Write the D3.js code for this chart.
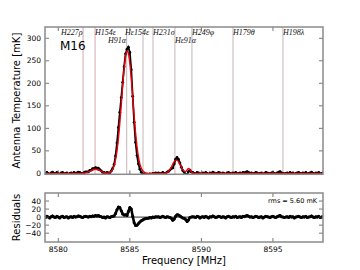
<!DOCTYPE html>
<html>
<head>
<meta charset="utf-8">
<script src="https://cdn.jsdelivr.net/npm/d3@7"></script>
<style>
  body { margin: 0; background: #fff; }
  svg { display: block; }
</style>
</head>
<body>
<svg id="chart" width="360" height="270"></svg>
<script>
// channel grid: 8579.0 .. 8598.5 MHz, 0.1 MHz channels
const freqStart = 8579.0;
const freqStep = 0.1;

// measured antenna temperature [mK], one row per MHz
const tempData = [
    1, -1, 2, 0, -2, 1, 3, 0, -1, 2,
    0, -2, 1, 2, -1, 0, 1, -2, 0, 1,
    -1, 2, 0, 1, 3, 2, 0, -0.7, 1.7, 3.2,
    3.1, 3.2, 6.7, 7.2, 10.6, 10.6, 13.0, 11.6, 11.6, 8.2,
    5.7, 2.2, 2.1, -0.8, 2.0, 1.2, 1.0, 5.4, 10.9, 19.8,
    38.8, 67.5, 101.9, 135.8, 168.3, 202.2, 237.0, 265.4, 275.6, 280.3,
    268.5, 230.2, 171.2, 113.6, 69.0, 39.5, 20.8, 9.3, 2.6, -1.1,
    -2.2, -2.8, -2.5, -3, -1, -2, 0, -1, 1, 0,
    1, -1, 0, 2, 0, -0.2, 3.0, 4.4, 7.3, 10.7,
    12.1, 21.0, 31.5, 35.5, 31.0, 23.1, 13.7, 6.3, 1.9, -2.0,
    -3.2, 4.0, 7.0, 3.0, 2.0, 0, -1, 2, 1, -2,
    0, 1, -1, 2, 0, -2, 1, 0, 3, 1,
    -1, 0, 2, 1, -1, 1, 0, -2, 1, 2,
    0, -1, 1, 0, 2, -1, 0, 1, -1, 2,
    1, 3, 4, 2, 0, 1, -1, 0, 2, 1,
    -1, 0, 1, -2, 0, 2, 1, 0, -1, 1,
    2, 0, -1, 1, 3, 4, 1, 0, -1, 0,
    1, -1, 2, 0, 1, -2, 0, 1, 2, 0,
    -1, 1, 0, 2, -1, 0, 1, 3, 0, -1,
    1, 0, 2, -1, 0, 1
];

// gaussian model fit [mK]
const tempFit = [
    0, 0, 0, 0, 0, 0, 0, 0, 0, 0,
    0, 0, 0, 0, 0, 0, 0, 0, 0, 0,
    0, 0, 0, 0, 0, 0, 0, 0.3, 0.7, 1.2,
    2.1, 3.2, 4.7, 6.2, 7.6, 8.6, 9.0, 8.6, 7.6, 6.2,
    4.7, 3.2, 2.1, 1.2, 1.0, 1.2, 2.0, 4.4, 8.9, 16.8,
    29.8, 49.5, 76.9, 111.8, 152.3, 194.2, 232.0, 259.4, 271.6, 266.3,
    244.5, 210.2, 169.2, 127.6, 90.0, 59.5, 36.8, 21.3, 11.6, 5.9,
    2.8, 1.2, 0.5, 0, 0, 0, 0, 0, 0, 0,
    0, 0, 0, 0, 0, 0.8, 2.0, 4.4, 8.3, 13.7,
    20.1, 26.0, 29.5, 29.5, 26.0, 20.1, 13.7, 8.3, 4.9, 4.0,
    7.8, 11, 8, 3, 1, 0, 0, 0, 0, 0,
    0, 0, 0, 0, 0, 0, 0, 0, 0, 0,
    0, 0, 0, 0, 0, 0, 0, 0, 0, 0,
    0, 0, 0, 0, 0, 0, 0, 0, 0, 0,
    0, 0, 0, 0, 0, 0, 0, 0, 0, 0,
    0, 0, 0, 0, 0, 0, 0, 0, 0, 0,
    0, 0, 0, 0, 0, 0, 0, 0, 0, 0,
    0, 0, 0, 0, 0, 0, 0, 0, 0, 0,
    0, 0, 0, 0, 0, 0, 0, 0, 0, 0,
    0, 0, 0, 0, 0, 0
];

// recombination line markers
const lineFreqs = [8581.73, 8582.57, 8584.78, 8585.92, 8586.62, 8588.15, 8589.34, 8592.21, 8595.70];
const lineNames = ["H227ρ", "H154ε", "H91α", "Hε154ε", "H231σ", "Hε91α", "H249φ", "H179θ", "H198λ"];
const labelFreqs = [8580.19, 8582.57, 8583.48, 8584.66, 8586.62, 8588.15, 8589.34, 8592.21, 8595.70];
const labelRows = [0, 0, 1, 0, 0, 1, 0, 0, 0];

const xTicks = [8580, 8585, 8590, 8595];
const tempTicks = [0, 50, 100, 150, 200, 250, 300];
const residTicks = [-40, -20, 0, 20, 40];
const rmsText = "rms =  5.60 mK";

const spectrum = tempData.map((t, i) => ({
    freq: freqStart + i * freqStep,
    data: t,
    fit: tempFit[i],
    resid: t - tempFit[i]
}));

const svg = d3.select("#chart");
const left = 45, right = 323;
const topPanel = {y0: 27, y1: 174.3};
const botPanel = {y0: 193, y1: 242};
const frameColor = "#8a8a8a";
const tickColor = "#555";

const x = d3.scaleLinear().domain([8579.07, 8598.5]).range([left, right]);
const yTop = d3.scaleLinear().domain([-2, 325]).range([topPanel.y1, topPanel.y0]);
const yBot = d3.scaleLinear().domain([-62, 60]).range([botPanel.y1, botPanel.y0]);

svg.append("defs").selectAll("clipPath")
    .data([["clipTop", topPanel], ["clipBot", botPanel]])
    .enter().append("clipPath")
    .attr("id", d => d[0])
    .append("rect")
    .attr("x", left).attr("y", d => d[1].y0)
    .attr("width", right - left).attr("height", d => d[1].y1 - d[1].y0);

// ---- top panel ----
const gTop = svg.append("g").attr("clip-path", "url(#clipTop)");

gTop.selectAll("line.rrl")
    .data(lineFreqs)
    .enter().append("line")
    .attr("class", "rrl")
    .attr("x1", d => x(d)).attr("x2", d => x(d))
    .attr("y1", topPanel.y0).attr("y2", topPanel.y1)
    .attr("stroke", (d, i) => i < 2 ? "#d3a9ae" : "#c4b6b6")
    .attr("stroke-width", 1);

const dataLine = d3.line().x(d => x(d.freq)).y(d => yTop(d.data));
const fitLine = d3.line().x(d => x(d.freq)).y(d => yTop(d.fit)).curve(d3.curveMonotoneX);

gTop.append("path")
    .datum(spectrum)
    .attr("d", dataLine)
    .attr("fill", "none")
    .attr("stroke", "#000")
    .attr("stroke-width", 1.8);

gTop.selectAll("circle.pt")
    .data(spectrum)
    .enter().append("circle")
    .attr("class", "pt")
    .attr("cx", d => x(d.freq))
    .attr("cy", d => yTop(d.data))
    .attr("r", 1.4)
    .attr("fill", "#000");

gTop.append("path")
    .datum(spectrum)
    .attr("d", fitLine)
    .attr("fill", "none")
    .attr("stroke", "#e8000b")
    .attr("stroke-width", 1.4);

svg.selectAll("text.rrl")
    .data(lineNames)
    .enter().append("text")
    .attr("class", "rrl")
    .attr("x", (d, i) => x(labelFreqs[i]))
    .attr("y", (d, i) => 35 + labelRows[i] * 7.5)
    .attr("font-family", "Liberation Serif, DejaVu Serif, serif")
    .attr("font-style", "italic")
    .attr("font-size", "8px")
    .attr("fill", "#111")
    .text(d => d);

svg.append("text")
    .attr("x", 60).attr("y", 50)
    .attr("font-family", "DejaVu Sans, sans-serif")
    .attr("font-size", "12px")
    .attr("fill", "#000")
    .text("M16");

// ---- residual panel ----
const gBot = svg.append("g").attr("clip-path", "url(#clipBot)");

gBot.append("line")
    .attr("x1", left).attr("x2", right)
    .attr("y1", yBot(0)).attr("y2", yBot(0))
    .attr("stroke", "#000")
    .attr("stroke-width", 0.8);

gBot.append("path")
    .datum(spectrum)
    .attr("d", d3.line().x(d => x(d.freq)).y(d => yBot(d.resid)))
    .attr("fill", "none")
    .attr("stroke", "#000")
    .attr("stroke-width", 2.6)
    .attr("stroke-linejoin", "round");

gBot.selectAll("circle.res")
    .data(spectrum)
    .enter().append("circle")
    .attr("class", "res")
    .attr("cx", d => x(d.freq))
    .attr("cy", d => yBot(d.resid))
    .attr("r", 1.5)
    .attr("fill", "#000");

svg.append("text")
    .attr("x", 317).attr("y", 203)
    .attr("text-anchor", "end")
    .attr("font-family", "DejaVu Sans, sans-serif")
    .attr("font-size", "6.5px")
    .attr("fill", "#000")
    .text(rmsText);

// ---- axes and frames ----
function drawFrame(panel, yScale, yTicks, showX) {
    const g = svg.append("g");
    // inward ticks on all four sides
    g.selectAll("g.xt")
        .data(xTicks)
        .enter().append("g")
        .each(function (d) {
            const t = d3.select(this);
            t.append("line").attr("x1", x(d)).attr("x2", x(d))
                .attr("y1", panel.y1).attr("y2", panel.y1 - 4);
            t.append("line").attr("x1", x(d)).attr("x2", x(d))
                .attr("y1", panel.y0).attr("y2", panel.y0 + 4);
        })
        .attr("stroke", tickColor).attr("stroke-width", 0.8);

    g.selectAll("g.yt")
        .data(yTicks)
        .enter().append("g")
        .each(function (d) {
            const t = d3.select(this);
            t.append("line").attr("x1", left).attr("x2", left + 4)
                .attr("y1", yScale(d)).attr("y2", yScale(d));
            t.append("line").attr("x1", right).attr("x2", right - 4)
                .attr("y1", yScale(d)).attr("y2", yScale(d));
        })
        .attr("stroke", tickColor).attr("stroke-width", 0.8);

    g.selectAll("text.yl")
        .data(yTicks)
        .enter().append("text")
        .attr("x", left - 4)
        .attr("y", d => yScale(d) + 2.6)
        .attr("text-anchor", "end")
        .attr("font-family", "DejaVu Sans, sans-serif")
        .attr("font-size", "7.5px")
        .attr("fill", "#000")
        .text(d => d < 0 ? "\u2212" + Math.abs(d) : d);

    if (showX) {
        g.selectAll("text.xl")
            .data(xTicks)
            .enter().append("text")
            .attr("x", d => x(d))
            .attr("y", panel.y1 + 9.5)
            .attr("text-anchor", "middle")
            .attr("font-family", "DejaVu Sans, sans-serif")
            .attr("font-size", "7.5px")
            .attr("fill", "#000")
            .text(d => d);
    }

    g.append("rect")
        .attr("x", left).attr("y", panel.y0)
        .attr("width", right - left).attr("height", panel.y1 - panel.y0)
        .attr("fill", "none")
        .attr("stroke", frameColor)
        .attr("stroke-width", 1.5);
}

drawFrame(topPanel, yTop, tempTicks, false);
drawFrame(botPanel, yBot, residTicks, true);

svg.append("text")
    .attr("transform", `translate(20, ${(topPanel.y0 + topPanel.y1) / 2}) rotate(-90)`)
    .attr("text-anchor", "middle")
    .attr("font-family", "DejaVu Sans, sans-serif")
    .attr("font-size", "10px")
    .attr("fill", "#000")
    .text("Antenna Temperature [mK]");

svg.append("text")
    .attr("transform", `translate(20, ${(botPanel.y0 + botPanel.y1) / 2}) rotate(-90)`)
    .attr("text-anchor", "middle")
    .attr("font-family", "DejaVu Sans, sans-serif")
    .attr("font-size", "10px")
    .attr("fill", "#000")
    .text("Residuals");

svg.append("text")
    .attr("x", (left + right) / 2).attr("y", 264)
    .attr("text-anchor", "middle")
    .attr("font-family", "DejaVu Sans, sans-serif")
    .attr("font-size", "10px")
    .attr("fill", "#000")
    .text("Frequency [MHz]");
</script>
</body>
</html>
